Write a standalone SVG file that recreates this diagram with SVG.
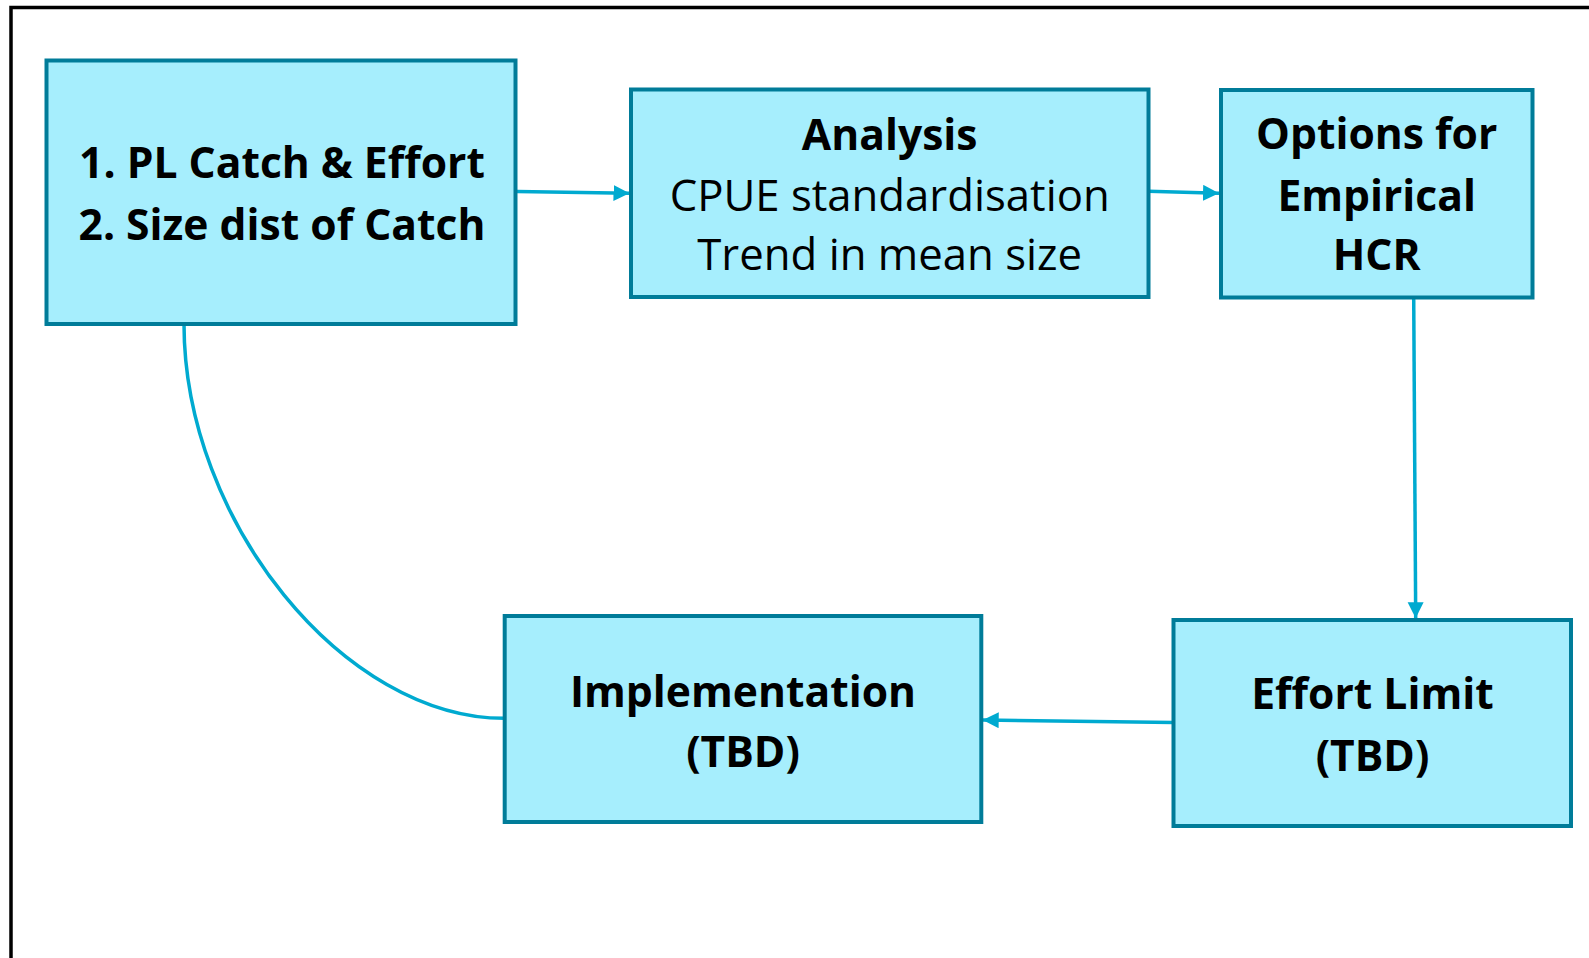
<svg xmlns="http://www.w3.org/2000/svg" width="1589" height="958" viewBox="0 0 1589 958">
  <style>
    .box { fill: #A6EEFD; stroke: #007C99; stroke-width: 4; }
    .lbl { font-family: "Open Sans", "Liberation Sans", sans-serif; font-size: 42.6px; fill: #000; text-anchor: middle; }
    .b { font-weight: bold; }
    .r { font-weight: normal; font-size: 43.7px; }
    .link { fill: none; stroke: #00AAD0; stroke-width: 3.5; }
  </style>
  <defs>
    <marker id="arrow" markerUnits="userSpaceOnUse" markerWidth="17" markerHeight="17" refX="16" refY="8" orient="auto">
      <path d="M0,0 L16,8 L0,16 z" fill="#00AAD0"/>
    </marker>
  </defs>

  <rect width="1589" height="958" fill="#fff"/>
  <!-- outer frame (open to the right and bottom) -->
  <rect x="11" y="7.5" width="1700" height="1100" fill="none" stroke="#000" stroke-width="3.5"/>

  <g id="connectors">
    <path class="link" d="M517,191.5 L629.5,193.3" marker-end="url(#arrow)"/>
    <path class="link" d="M1148.5,191.2 L1219,193.3" marker-end="url(#arrow)"/>
    <path class="link" d="M1413.7,297 L1415.7,618.3" marker-end="url(#arrow)"/>
    <path class="link" d="M1173.5,722.5 L982.7,720" marker-end="url(#arrow)"/>
    <path class="link" d="M184,324 C184,521 344,718.3 504.7,718.3"/>
  </g>

  <g id="data">
    <rect class="box" x="46.5" y="60.5" width="469" height="263.5"/>
    <text class="lbl b" x="282" y="178.3">1. PL Catch &amp; Effort</text>
    <text class="lbl b" x="282" y="240">2. Size dist of Catch</text>
  </g>

  <g id="analysis">
    <rect class="box" x="631" y="89.5" width="517.5" height="207.5"/>
    <text class="lbl b" x="889.7" y="150">Analysis</text>
    <text class="lbl r" x="889.7" y="211">CPUE standardisation</text>
    <text class="lbl r" x="889.7" y="270">Trend in mean size</text>
  </g>

  <g id="options">
    <rect class="box" x="1221" y="90" width="311.5" height="207.5"/>
    <text class="lbl b" x="1376.7" y="149.3">Options for</text>
    <text class="lbl b" x="1376.7" y="210.7">Empirical</text>
    <text class="lbl b" x="1376.7" y="270">HCR</text>
  </g>

  <g id="effort-limit">
    <rect class="box" x="1173.5" y="620" width="397.5" height="206"/>
    <text class="lbl b" x="1372.5" y="709">Effort Limit</text>
    <text class="lbl b" x="1372.5" y="771">(TBD)</text>
  </g>

  <g id="implementation">
    <rect class="box" x="504.7" y="616" width="476.6" height="206"/>
    <text class="lbl b" x="743" y="706.7">Implementation</text>
    <text class="lbl b" x="743" y="766.7">(TBD)</text>
  </g>
</svg>
